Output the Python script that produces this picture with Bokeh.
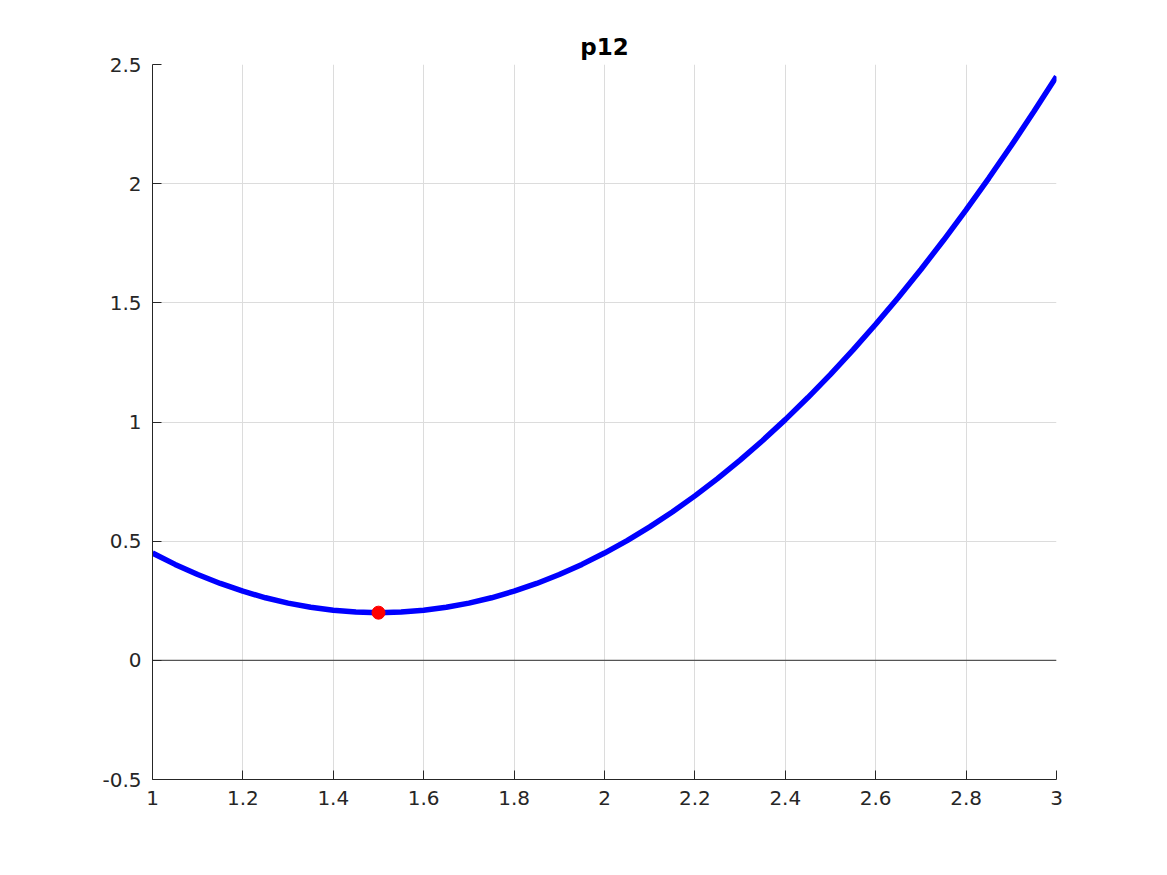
from bokeh.plotting import figure
from bokeh.models import Range1d, FixedTicker
from bokeh.embed import file_html
from bokeh.resources import INLINE

x_vals = [1.00, 1.05, 1.10, 1.15, 1.20, 1.25, 1.30, 1.35, 1.40, 1.45, 1.50,
          1.55, 1.60, 1.65, 1.70, 1.75, 1.80, 1.85, 1.90, 1.95, 2.00,
          2.05, 2.10, 2.15, 2.20, 2.25, 2.30, 2.35, 2.40, 2.45, 2.50,
          2.55, 2.60, 2.65, 2.70, 2.75, 2.80, 2.85, 2.90, 2.95, 3.00]
y_vals = [0.45, 0.4025, 0.36, 0.3225, 0.29, 0.2625, 0.24, 0.2225, 0.21, 0.2025, 0.20,
          0.2025, 0.21, 0.2225, 0.24, 0.2625, 0.29, 0.3225, 0.36, 0.4025, 0.45,
          0.5025, 0.56, 0.6225, 0.69, 0.7625, 0.84, 0.9225, 1.01, 1.1025, 1.20,
          1.3025, 1.41, 1.5225, 1.64, 1.7625, 1.89, 2.0225, 2.16, 2.3025, 2.45]
min_x = [1.5]
min_y = [0.2]
x_ticks = [1, 1.2, 1.4, 1.6, 1.8, 2, 2.2, 2.4, 2.6, 2.8, 3]
y_ticks = [-0.5, 0, 0.5, 1, 1.5, 2, 2.5]
title_text = "p12"

p = figure(width=1151, height=859, output_backend="svg", toolbar_location=None,
           x_range=Range1d(1, 3), y_range=Range1d(-0.5, 2.5),
           min_border_left=152, min_border_right=95, min_border_top=64,
           min_border_bottom=80, title=title_text)
p.outline_line_color = None
p.background_fill_color = "white"
p.border_fill_color = "white"

p.title.align = "center"
p.title.text_font = "DejaVu Sans"
p.title.text_font_size = "23px"
p.title.text_font_style = "bold"
p.title.text_color = "black"
p.title.standoff = 9

grey = "#262626"
for ax in (p.xaxis[0], p.yaxis[0]):
    ax.axis_line_color = grey
    ax.axis_line_width = 1
    ax.major_tick_line_color = grey
    ax.major_tick_in = 9
    ax.major_tick_out = 0
    ax.minor_tick_line_color = None
    ax.major_label_text_font = "DejaVu Sans"
    ax.major_label_text_font_size = "20px"
    ax.major_label_text_color = grey
p.xaxis[0].ticker = FixedTicker(ticks=x_ticks)
p.yaxis[0].ticker = FixedTicker(ticks=y_ticks)
p.xaxis[0].major_label_overrides = {1: "1", 2: "2", 3: "3"}
p.yaxis[0].major_label_overrides = {-0.5: "-0.5", 0: "0", 1: "1", 2: "2"}
p.xaxis[0].major_label_standoff = 11
p.yaxis[0].major_label_standoff = 11

p.xgrid.grid_line_color = "#dcdcdc"
p.ygrid.grid_line_color = "#dcdcdc"
p.xgrid[0].ticker = FixedTicker(ticks=x_ticks)
p.ygrid[0].ticker = FixedTicker(ticks=y_ticks)

p.segment(x0=[1], y0=[0], x1=[3], y1=[0], line_color="#555555", line_width=1.2)
p.line(x_vals, y_vals, line_color="blue", line_width=5.5)
p.scatter(min_x, min_y, size=13, fill_color="red", line_color="red")

open("out.html", "w").write(file_html(p, INLINE))
